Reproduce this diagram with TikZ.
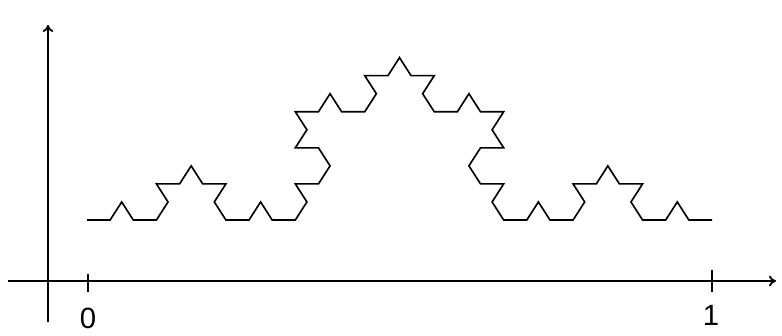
\documentclass[tikz,border=0pt]{standalone}
\usepackage{fontspec}
\setsansfont{Liberation Sans}
\usetikzlibrary{arrows.meta}

\begin{document}
\begin{tikzpicture}[x=0.03cm, y=0.03cm,
  axis/.style={line width=1.6pt, -{To[length=6pt,width=9pt]}},
  tickmark/.style={line width=1.6pt},
  digit/.style={font=\sffamily\fontsize{25}{25}\selectfont, inner sep=0pt, anchor=base},
  koch/.style={line width=1.4pt, line join=miter}
]
\useasboundingbox (0,0) rectangle (782,336);
% axes
\coordinate (xs) at (8,55);
\coordinate (xe) at (776,55);
\coordinate (ys) at (48,14);
\coordinate (ye) at (48,311);
\draw[axis] (xs) -- (xe);
\draw[axis] (ys) -- (ye);
% ticks and labels
\coordinate (t0) at (88,55);
\coordinate (t1) at (712,55);
\draw[tickmark] ([yshift=-9]t0) -- ([yshift=6]t0);
\draw[tickmark] ([yshift=-9]t1) -- ([yshift=9]t1);
\node[digit] (l0) at (88,7) {0};
\node[digit] (l1) at (711,10) {1};
% Koch curve, third order: 64 segments, turn per base-4 digit
\coordinate (k0) at (87,116);
\begin{scope}[shift={(k0)}, yscale=0.9]
\draw[koch] (0,0)
  \foreach \i [evaluate=\i as \a using
      {60*((mod(\i,4)==1)-(mod(\i,4)==2)
       +(mod(floor(\i/4),4)==1)-(mod(floor(\i/4),4)==2)
       +(floor(\i/16)==1)-(floor(\i/16)==2))}] in {0,...,63}
  { -- ++(\a:23.148) };
\end{scope}
\end{tikzpicture}
\end{document}
